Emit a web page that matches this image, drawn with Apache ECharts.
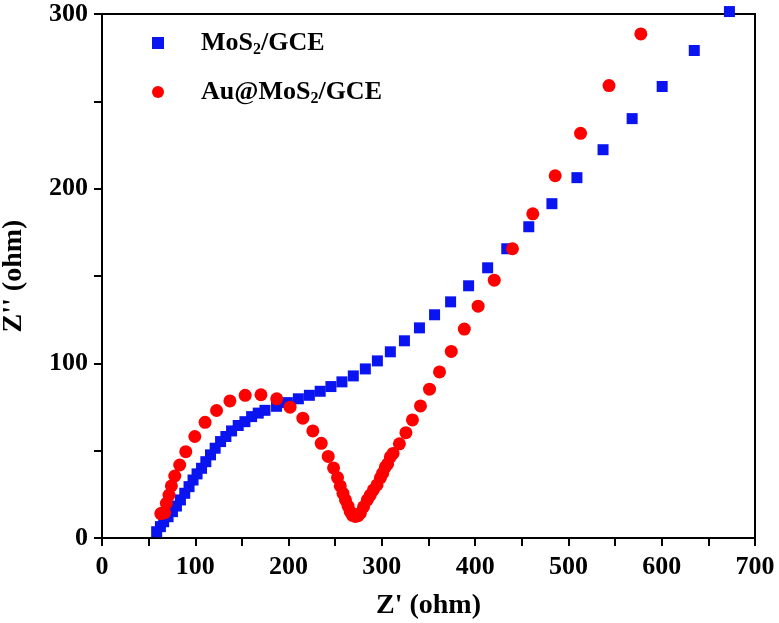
<!DOCTYPE html>
<html><head><meta charset="utf-8">
<script src="https://cdn.jsdelivr.net/npm/echarts@6/dist/echarts.min.js"></script>
<style>html,body{margin:0;padding:0;background:#fff}#c{width:779px;height:623px}</style>
</head><body><div id="c"></div>
<script>
const xTicks = [0, 100, 200, 300, 400, 500, 600, 700];
const yTicks = [0, 100, 200, 300];
const seriesNames = ['MoS2/GCE', 'Au@MoS2/GCE'];
const mosX = [58.6,62.6,66.1,70.8,75.5,79.8,84.1,88.7,93.3,97.6,101.9,106.7,111.3,116.3,121.3,127.1,132.8,138.9,146,153.2,160.4,167.5,174.7,187.1,198.7,210.5,222.3,233.9,245.4,257.2,269.4,282.3,295.2,309.1,324.2,340.3,356.5,373.7,393,413.4,433.9,457.5,482.3,509.1,537.1,568.3,600.5,634.9,672.6];
const mosY = [3.6,6.5,9.3,12.2,15.1,18.3,21.8,25.6,29.4,33.2,36.7,39.9,43.7,47.6,51.4,55.2,58.1,61.3,64.4,66.6,69.5,71.5,73.1,75.4,77.5,79.7,81.7,84,86.7,89.4,92.8,96.8,101.4,106.6,112.9,120.3,127.8,135.2,144.4,154.7,165.6,178.2,191.4,206.3,222.3,240.1,258.5,279.1,301.4];
const auX = [63,65,67.2,69,71.8,74.4,78,83.3,89.8,99.5,110.5,122.8,137.1,153.5,170.4,187.3,201.6,215.3,226,235,242.5,248.2,252.5,255.4,258.3,261,263.7,266.1,268.5,271.5,274.5,276.9,280.4,284.4,287.6,290.9,294.8,298.4,300.9,303.8,306.2,309.1,312,318.8,325.8,332.8,341.4,351.1,361.8,374.4,388.4,403.2,420.5,440,461.8,485.8,513,543.5,577.6];
const auY = [14,14.3,14.5,19.9,24.6,29.8,35.5,41.8,49.4,58.1,66.2,73,78.5,81.7,82,79.7,74.9,68.6,61.3,54.2,46.7,40.1,34.6,29.8,25.6,21.8,18.3,15.1,13,12.3,12.8,14.2,17.9,21.8,24.6,27.5,30.4,34.4,37.1,40.7,42.4,46.4,48.4,53.9,60.3,67.6,75.6,85.2,95.1,106.8,119.6,132.7,147.6,165.6,185.6,207.4,231.7,259,288.6];

const pair = (xs, ys) => xs.map((x, i) => [x, ys[i]]);
const font = 'Liberation Serif';
const chart = echarts.init(document.getElementById('c'));
const labelStyle = { fontFamily: font, fontWeight: 'bold', fontSize: 26, color: '#000' };
const nameStyle = { fontFamily: font, fontWeight: 'bold', fontSize: 28, color: '#000' };
const tickStyle = { color: '#000', width: 2 };
chart.setOption({
  animation: false,
  grid: { left: 102, right: 24, top: 14, bottom: 85, containLabel: false, outerBoundsMode: 'none',
    show: true, borderColor: '#000', borderWidth: 2, backgroundColor: 'transparent' },
  legend: {
    left: 147, top: 25, orient: 'vertical', itemGap: 21, itemWidth: 12, itemHeight: 12,
    formatter: function (n) {
      if (n === seriesNames[0]) return '{a|MoS}{s|2}{a|/GCE}';
      return '{a|Au@MoS}{s|2}{a|/GCE}';
    },
    textStyle: {
      padding: [0, 0, 0, 32],
      rich: {
        a: { fontFamily: font, fontWeight: 'bold', fontSize: 26, color: '#000' },
        s: { fontFamily: font, fontWeight: 'bold', fontSize: 16, color: '#000', padding: [14, 0, 0, 0] }
      }
    },
    data: [{ name: seriesNames[0], icon: 'rect' }, { name: seriesNames[1], icon: 'circle' }]
  },
  xAxis: {
    type: 'value', min: xTicks[0], max: xTicks[xTicks.length - 1], interval: 100,
    name: "Z' (ohm)", nameLocation: 'middle', nameGap: 54, nameTextStyle: nameStyle,
    axisLine: { show: true, lineStyle: { color: '#000', width: 2 } },
    axisTick: { show: true, length: 8, lineStyle: tickStyle },
    minorTick: { show: true, splitNumber: 2, length: 8, lineStyle: tickStyle },
    splitLine: { show: false },
    axisLabel: Object.assign({ margin: 16 }, labelStyle)
  },
  yAxis: {
    type: 'value', min: yTicks[0], max: yTicks[yTicks.length - 1], interval: 100,
    name: "Z'' (ohm)", nameLocation: 'middle', nameGap: 74, nameTextStyle: nameStyle,
    axisLine: { show: true, lineStyle: { color: '#000', width: 2 } },
    axisTick: { show: true, length: 8, lineStyle: tickStyle },
    minorTick: { show: true, splitNumber: 2, length: 8, lineStyle: tickStyle },
    splitLine: { show: false },
    axisLabel: Object.assign({ margin: 14 }, labelStyle)
  },
  series: [
    { name: seriesNames[0], type: 'scatter', symbol: 'rect', symbolSize: 11, clip: false,
      itemStyle: { color: '#0a14f0', opacity: 1 }, data: pair(mosX, mosY), z: 2 },
    { name: seriesNames[1], type: 'scatter', symbol: 'circle', symbolSize: 13, clip: false,
      itemStyle: { color: '#ff0000', opacity: 1 }, data: pair(auX, auY), z: 3 }
  ]
});
</script></body></html>
